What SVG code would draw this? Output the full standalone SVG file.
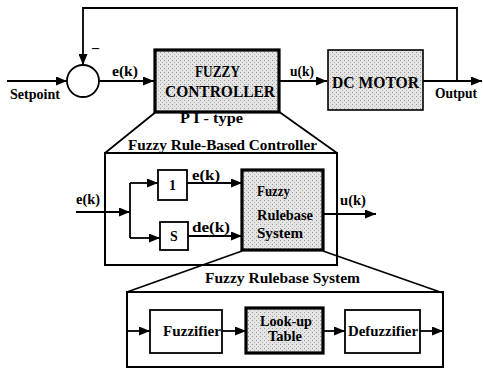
<svg xmlns="http://www.w3.org/2000/svg" width="483" height="369" viewBox="0 0 483 369">
<defs>
<marker id="ah" markerWidth="11" markerHeight="9" refX="11" refY="4.5" orient="auto" markerUnits="userSpaceOnUse"><path d="M0,0 L11,4.5 L0,9 z" fill="#000"/></marker>
<pattern id="dots" width="4" height="4" patternUnits="userSpaceOnUse"><rect width="4" height="4" fill="#e4e4e4"/><rect x="0" y="0" width="1" height="1" fill="#9a9a9a"/><rect x="2" y="2" width="1" height="1" fill="#b4b4b4"/></pattern>
</defs>
<style>
text{font-family:"Liberation Serif","DejaVu Serif","Times New Roman",serif;font-weight:bold;fill:#000}
.big{font-size:16px}
.lbl{font-size:14px}
.line{fill:none;stroke:#000;stroke-width:1.8}
.arr{fill:none;stroke:#000;stroke-width:1.8;marker-end:url(#ah)}
.box{fill:#fff;stroke:#000;stroke-width:1.8}
.gbox{fill:url(#dots);stroke:#000;stroke-width:3.2}
.pbox{fill:url(#dots);stroke:#000;stroke-width:1.6}
.frame{fill:none;stroke:#000;stroke-width:2}
</style>
<rect width="483" height="369" fill="#fff"/>

<g id="connectors">
<path class="arr" d="M7,81 H67"/>
<path class="arr" d="M99,81 H154"/>
<path class="arr" d="M279,81 H327"/>
<path class="arr" d="M423,81 H482"/>
<path class="arr" d="M457,81 V8 H83 V65"/>
<path class="line" d="M157,111 L105,153"/>
<path class="line" d="M278,111 L337,153"/>
<path class="arr" d="M76,212 H130"/>
<path class="line" d="M130,183 V238"/>
<path class="arr" d="M130,183 H158"/>
<path class="arr" d="M130,238 H160"/>
<path class="arr" d="M187,183 H242"/>
<path class="arr" d="M188,236 H242"/>
<path class="arr" d="M323,214 H376"/>
<path class="line" d="M242,251 L127,292"/>
<path class="line" d="M323,251 L443,293"/>
<path class="arr" d="M127,331 H150"/>
<path class="arr" d="M222,331 H246"/>
<path class="arr" d="M323,331 H345"/>
<path class="arr" d="M420,331 H443"/>
</g>

<g id="sum">
<circle cx="83" cy="81" r="16" fill="#fff" stroke="#000" stroke-width="1.8"/>
<text class="lbl" x="92" y="52">–</text>
</g>

<g id="labels-top">
<text class="lbl" x="10" y="99" textLength="50" lengthAdjust="spacingAndGlyphs">Setpoint</text>
<text class="lbl" x="112" y="76" textLength="26" lengthAdjust="spacingAndGlyphs">e(k)</text>
<text class="lbl" x="290" y="76" textLength="24" lengthAdjust="spacingAndGlyphs">u(k)</text>
<text class="lbl" x="435" y="98" textLength="42" lengthAdjust="spacingAndGlyphs">Output</text>
</g>

<g id="fuzzy-controller">
<rect class="gbox" x="155" y="50" width="124" height="62"/>
<text class="big" x="195" y="77" textLength="45" lengthAdjust="spacingAndGlyphs">FUZZY</text>
<text class="big" x="165" y="97" textLength="110" lengthAdjust="spacingAndGlyphs">CONTROLLER</text>
<text class="lbl" x="180" y="123" textLength="63" lengthAdjust="spacingAndGlyphs">P I - type</text>
</g>

<g id="dc-motor">
<rect class="pbox" x="328" y="50" width="95" height="60"/>
<text class="big" x="332" y="88" textLength="87" lengthAdjust="spacingAndGlyphs">DC  MOTOR</text>
</g>

<g id="rule-based-controller">
<rect class="frame" x="105" y="153" width="232" height="112"/>
<text class="lbl" x="128" y="150" textLength="189" lengthAdjust="spacingAndGlyphs">Fuzzy  Rule-Based Controller</text>
<text class="lbl" x="76" y="204" textLength="24" lengthAdjust="spacingAndGlyphs">e(k)</text>
<text class="lbl" x="340" y="205" textLength="26" lengthAdjust="spacingAndGlyphs">u(k)</text>
</g>

<g id="block-1">
<rect class="box" x="158" y="170" width="29" height="30"/>
<text class="lbl" x="172.5" y="190" text-anchor="middle">1</text>
</g>

<g id="block-s">
<rect class="box" x="160" y="222" width="28" height="28"/>
<text class="lbl" x="174" y="241" text-anchor="middle">S</text>
</g>

<g id="inner-labels">
<text class="lbl" x="192" y="180" textLength="28" lengthAdjust="spacingAndGlyphs">e(k)</text>
<text class="lbl" x="192" y="232" textLength="38" lengthAdjust="spacingAndGlyphs">de(k)</text>
</g>

<g id="fuzzy-rulebase-system">
<rect class="gbox" x="242" y="170" width="81" height="80"/>
<text class="lbl" x="257" y="196" textLength="33" lengthAdjust="spacingAndGlyphs">Fuzzy</text>
<text class="lbl" x="257" y="220" textLength="56" lengthAdjust="spacingAndGlyphs">Rulebase</text>
<text class="lbl" x="257" y="238" textLength="46" lengthAdjust="spacingAndGlyphs">System</text>
</g>

<g id="rulebase-system-detail">
<rect class="frame" x="127" y="292" width="316" height="75"/>
<text class="lbl" x="205" y="283" textLength="155" lengthAdjust="spacingAndGlyphs">Fuzzy  Rulebase  System</text>
</g>

<g id="fuzzifier">
<rect class="box" x="150" y="310" width="72" height="43"/>
<text class="lbl" x="163" y="336" textLength="58" lengthAdjust="spacingAndGlyphs">Fuzzifier</text>
</g>

<g id="lookup-table">
<rect class="gbox" x="246" y="308" width="77" height="45"/>
<text class="lbl" x="260" y="326" textLength="52" lengthAdjust="spacingAndGlyphs">Look-up</text>
<text class="lbl" x="268" y="341" textLength="34" lengthAdjust="spacingAndGlyphs">Table</text>
</g>

<g id="defuzzifier">
<rect class="box" x="345" y="310" width="75" height="43"/>
<text class="lbl" x="348" y="336" textLength="70" lengthAdjust="spacingAndGlyphs">Defuzzifier</text>
</g>
</svg>
